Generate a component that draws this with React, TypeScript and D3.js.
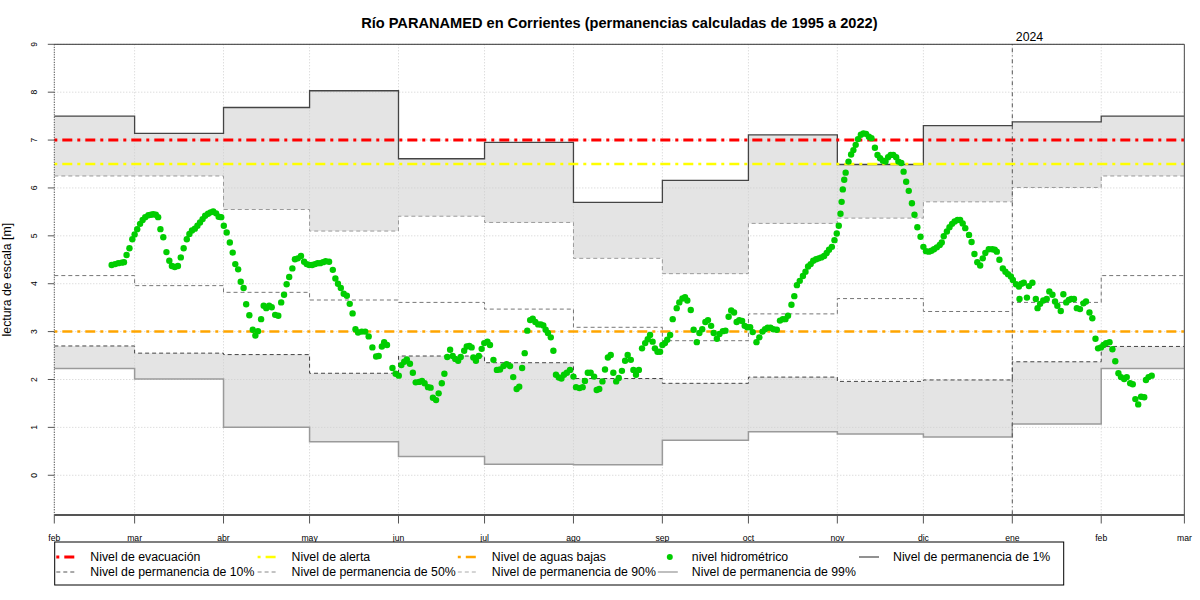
import React from "react";
import * as d3 from "d3";

// ---------- data ----------
const monthStarts = [
  "2023-02-01", "2023-03-01", "2023-04-01", "2023-05-01", "2023-06-01", "2023-07-01",
  "2023-08-01", "2023-09-01", "2023-10-01", "2023-11-01", "2023-12-01", "2024-01-01", "2024-02-01",
];
const axisEnd = "2024-03-01";
const tickLabels = ["feb", "mar", "abr", "may", "jun", "jul", "ago", "sep", "oct", "nov", "dic", "ene", "feb", "mar"];
const yTicks = [0, 1, 2, 3, 4, 5, 6, 7, 8, 9];
const yearMarkDate = "2024-01-01";
const yearMarkLabel = "2024";

// monthly permanence levels (m)
const perm1 = [7.5, 7.14, 7.68, 8.03, 6.61, 6.95, 5.7, 6.16, 7.11, 6.49, 7.3, 7.38, 7.5];
const perm10 = [6.25, 6.25, 5.55, 5.1, 5.41, 5.28, 4.53, 4.21, 5.26, 5.37, 5.71, 6.01, 6.25];
const perm50 = [4.17, 3.96, 3.82, 3.66, 3.61, 3.47, 3.09, 2.81, 3.37, 3.69, 3.42, 3.61, 4.17];
const perm90 = [2.7, 2.55, 2.52, 2.13, 2.49, 2.35, 2.02, 1.92, 2.05, 1.96, 1.99, 2.37, 2.69];
const perm99 = [2.23, 2.01, 1.0, 0.7, 0.39, 0.23, 0.22, 0.73, 0.91, 0.86, 0.8, 1.07, 2.23];

// reference levels
const levelEvacuacion = 7.0;
const levelAlerta = 6.5;
const levelAguasBajas = 3.0;

// observations: days since 2023-02-01 and gauge reading (m)
const obsDay = [
  20.0, 21.2, 22.3, 23.5, 24.3, 25.2, 26.2, 27.2, 28.0, 28.9,
  29.9, 30.8, 31.7, 32.8, 33.7, 34.5, 35.4, 36.2, 37.0, 38.0,
  39.1, 40.1, 41.0, 42.0, 43.1, 44.1, 45.1, 46.2, 47.1, 48.0,
  49.0, 49.9, 50.8, 51.7, 52.6, 53.6, 54.5, 55.4, 56.4, 57.3,
  58.2, 59.1, 60.1, 61.2, 62.2, 63.1, 64.1, 65.0, 66.0, 66.9,
  68.0, 69.2, 70.1, 71.0, 72.1, 73.0, 73.9, 74.9, 75.8, 77.0,
  78.1, 79.1, 80.1, 81.0, 81.9, 83.0, 83.9, 84.9, 86.0, 87.1,
  88.0, 88.9, 89.9, 90.9, 91.8, 92.7, 93.7, 94.6, 95.8, 97.1,
  98.0, 98.9, 99.9, 100.9, 102.0, 103.0, 104.0, 105.0, 105.9, 107.2,
  108.4, 109.6, 110.9, 112.2, 113.1, 114.2, 115.0, 116.0, 117.9, 119.0,
  120.1, 121.0, 122.0, 122.9, 124.0, 125.0, 126.0, 127.2, 128.2, 129.1,
  130.3, 131.2, 132.0, 133.1, 134.0, 135.1, 136.0, 137.0,
  138.0, 138.9, 139.8, 140.8, 141.7, 142.9, 143.8, 144.7, 145.5, 146.1,
  147.0, 148.0, 149.0, 149.9, 151.0, 151.9, 153.1, 154.3, 155.4, 156.6,
  157.7, 158.9, 160.0, 161.2, 162.1, 163.1, 164.0, 164.9, 165.9, 166.8,
  167.7, 168.7, 169.6, 170.5, 171.3, 172.1, 173.1, 174.0, 174.9, 175.9,
  176.8, 177.7, 178.7, 179.8, 181.0, 181.9, 183.1, 184.2, 185.0, 186.0,
  187.0, 188.2, 189.1, 190.0, 191.1, 192.0, 193.0, 194.0, 194.9, 195.9,
  196.8, 197.9, 199.0, 199.9, 201.0, 201.9, 202.8, 203.8, 204.9, 206.0,
  206.9, 207.7, 208.6, 209.4, 210.3, 211.2, 212.0, 212.9, 213.7, 214.7,
  215.6, 217.0, 217.9, 219.0, 219.9, 220.7, 221.9, 222.9, 224.0, 224.9,
  225.9, 227.0, 227.9, 229.0, 229.9, 231.0, 231.9, 233.1, 234.0, 235.1,
  236.0, 237.0, 237.9, 238.8, 239.8, 240.7, 241.6, 242.6, 243.5, 244.8,
  245.8, 246.9, 247.8, 248.7, 249.7, 250.7, 251.9, 253.0, 254.0, 254.9,
  255.8,
  257.0, 258.0, 258.9, 259.9, 261.0, 261.9, 262.8, 263.7, 264.6, 265.6,
  266.5, 267.4, 268.4, 269.3, 270.1, 271.1, 272.0, 272.8, 273.5, 274.1,
  274.5, 274.9, 275.4, 275.9, 276.9, 277.8, 278.6, 279.4, 280.2, 281.2,
  282.1, 283.0, 284.0, 284.9, 286.1, 287.0, 287.9, 288.9, 289.8, 290.7,
  291.6, 292.5, 293.5, 294.3, 295.3, 296.1, 297.0, 297.9, 299.0, 299.9,
  300.9, 302.0, 303.0, 303.9, 304.9, 305.8, 306.7, 307.7, 308.7, 309.4,
  310.1, 311.2, 312.1, 313.0, 313.9, 314.9, 315.8, 316.7, 317.6, 318.9,
  319.8, 320.8, 321.8, 322.8, 323.7, 324.6, 325.8, 327.0, 327.9, 328.6,
  329.5, 330.7, 331.6, 332.5, 333.5, 334.2, 335.3, 336.3, 336.5, 337.2,
  338.0, 339.1, 339.8, 341.0, 342.2, 342.8, 343.7, 344.8, 346.0, 346.9,
  348.0, 348.9, 349.7, 350.9, 351.8, 352.8, 353.7, 354.6, 355.5, 356.5,
  357.6, 358.8, 359.7, 360.9, 361.9, 363.0, 363.9, 364.9, 365.8, 366.7,
  367.9, 368.9, 369.9, 371.0, 371.9, 373.0, 373.9, 375.1, 376.0, 376.9,
  377.9, 378.9, 380.0, 380.6, 381.5, 382.6,
];
const obsLevel = [
  4.39, 4.41, 4.43, 4.44, 4.45, 4.6, 4.74, 4.93, 5.03, 5.14,
  5.25, 5.33, 5.39, 5.43, 5.44, 5.45, 5.44, 5.39, 5.14, 4.97,
  4.66, 4.48, 4.37, 4.35, 4.37, 4.55, 4.74, 4.93, 5.04, 5.11,
  5.15, 5.21, 5.28, 5.35, 5.42, 5.46, 5.49, 5.51, 5.47, 5.4,
  5.39, 5.21, 5.07, 4.86, 4.65, 4.41, 4.3, 4.04, 3.91, 3.57,
  3.34, 3.04, 2.92, 3.01, 3.26, 3.54, 3.49, 3.54, 3.51, 3.35,
  3.33, 3.61, 3.77, 3.99, 4.14, 4.32, 4.51, 4.53, 4.58, 4.46,
  4.41, 4.39, 4.39, 4.41, 4.43, 4.43, 4.45, 4.47, 4.46, 4.29,
  4.11, 4.0, 3.91, 3.79, 3.75, 3.58, 3.38, 3.05, 2.98, 3.0,
  3.0, 2.9, 2.67, 2.48, 2.49, 2.69, 2.78, 2.72, 2.24, 2.12,
  2.08, 2.3, 2.37, 2.42, 2.33, 2.14, 1.94, 1.95, 1.97, 1.92,
  1.84, 1.83, 1.62, 1.57, 1.71, 1.92, 2.12, 2.47,
  2.62, 2.49, 2.43, 2.39, 2.47, 2.6, 2.69, 2.7, 2.67, 2.46,
  2.39, 2.49, 2.64, 2.76, 2.79, 2.72, 2.41, 2.2, 2.21, 2.28,
  2.32, 2.28, 2.05, 1.8, 1.85, 2.24, 2.55, 3.02, 3.24, 3.27,
  3.2, 3.15, 3.15, 3.13, 3.04, 2.97, 2.88, 2.6, 2.1, 2.04,
  2.02, 2.1, 2.14, 2.2, 2.06, 1.84, 1.82, 1.84, 1.97, 2.14,
  2.14, 2.06, 1.78, 1.8, 1.96, 2.21, 2.46, 2.51, 2.14, 1.96,
  2.03, 2.18, 2.39, 2.51, 2.41, 2.2, 2.1, 2.2, 2.65, 2.76,
  2.84, 2.93, 2.79, 2.65, 2.58, 2.58, 2.72, 2.76, 2.83, 2.93,
  3.26, 3.49, 3.61, 3.69, 3.72, 3.65, 3.45, 3.04, 2.78, 2.97,
  3.05, 3.2, 3.24, 3.12, 2.97, 2.85, 2.95, 3.01, 3.02, 3.31,
  3.44, 3.4, 3.2, 3.24, 3.22, 3.12, 3.09, 3.09, 2.99, 2.78,
  2.88, 3.0, 3.05, 3.08, 3.08, 3.05, 3.04, 3.23, 3.26, 3.26,
  3.33,
  3.56, 3.74, 3.97, 4.06, 4.16, 4.25, 4.36, 4.41, 4.48, 4.51,
  4.53, 4.55, 4.58, 4.64, 4.71, 4.77, 4.91, 5.05, 5.21, 5.46,
  5.71, 5.97, 6.17, 6.32, 6.55, 6.7, 6.79, 6.9, 7.02, 7.11,
  7.14, 7.13, 7.07, 7.04, 6.84, 6.69, 6.62, 6.57, 6.55, 6.64,
  6.69, 6.69, 6.64, 6.55, 6.52, 6.34, 6.13, 5.94, 5.68, 5.44,
  5.18, 4.98, 4.77, 4.68, 4.67, 4.69, 4.72, 4.76, 4.81, 4.86,
  4.99, 5.09, 5.18, 5.25, 5.3, 5.33, 5.33, 5.26, 5.16, 5.02,
  4.87, 4.62, 4.45, 4.38, 4.53, 4.64, 4.72, 4.72, 4.71, 4.67,
  4.5, 4.32, 4.25, 4.2, 4.15, 4.08, 3.99, 3.94, 3.68, 4.0,
  4.02, 3.71, 3.95, 4.02, 3.68, 3.49, 3.58, 3.65, 3.68, 3.84,
  3.77, 3.63, 3.54, 3.43, 3.78, 3.61, 3.66, 3.68, 3.68, 3.49,
  3.47, 3.59, 3.63, 3.4, 3.28, 2.85, 2.65, 2.67, 2.72, 2.76,
  2.78, 2.63, 2.38, 2.13, 2.05, 2.01, 2.05, 1.92, 1.9, 1.59,
  1.48, 1.64, 1.63, 1.99, 2.05, 2.08,
];

const titleText = "Río PARANAMED en Corrientes (permanencias calculadas de 1995 a 2022)";
const yAxisTitle = "lectura de escala [m]";
const legendRow1 = ["Nivel de evacuación", "Nivel de alerta", "Nivel de aguas bajas", "nivel hidrométrico", "Nivel de permanencia de 1%"];
const legendRow2 = ["Nivel de permanencia de 10%", "Nivel de permanencia de 50%", "Nivel de permanencia de 90%", "Nivel de permanencia de 99%"];

// ---------- chart ----------
const FONT = "'Liberation Sans', Arial, Helvetica, sans-serif";
const DOTDASH = "3 5 10 5";

type Pt = { d: Date; v: number };

export default function App() {
  const W = 1200, H = 600;
  const left = 54.3, right = 1184.4, top = 44.3, bottom = 515;
  const parse = d3.timeParse("%Y-%m-%d");
  const starts = monthStarts.map((s) => parse(s) as Date);
  const end = parse(axisEnd) as Date;
  const tickDates = [...starts, end];

  const x = d3.scaleTime().domain([starts[0], end]).range([left, right]);
  const y = d3.scaleLinear().domain([-0.83, 9]).range([bottom, top]);

  const stepPts = (vals: number[]): Pt[] => [
    ...starts.map((d, i) => ({ d, v: vals[i] })),
    { d: end, v: vals[vals.length - 1] },
  ];
  const line = d3.line<Pt>().x((p) => x(p.d)).y((p) => y(p.v)).curve(d3.curveStepAfter);
  const band = (hi: number[], lo: number[]) => {
    const pts = starts.map((d, i) => ({ d, hi: hi[i], lo: lo[i] }));
    pts.push({ d: end, hi: hi[hi.length - 1], lo: lo[lo.length - 1] });
    return d3
      .area<{ d: Date; hi: number; lo: number }>()
      .x((p) => x(p.d))
      .y0((p) => y(p.lo))
      .y1((p) => y(p.hi))
      .curve(d3.curveStepAfter)(pts) as string;
  };

  const t0 = starts[0].getTime();
  const obs = obsDay.map((dd, i) => ({ d: new Date(t0 + dd * 864e5), v: obsLevel[i] }));

  const yearX = x(parse(yearMarkDate) as Date);

  const permStyles = [
    { vals: perm1, stroke: "#444", dash: undefined, w: 1.3 },
    { vals: perm10, stroke: "#9a9a9a", dash: "4 3", w: 1 },
    { vals: perm50, stroke: "#777", dash: "4 3", w: 1 },
    { vals: perm90, stroke: "#444", dash: "4 3", w: 1 },
    { vals: perm99, stroke: "#9a9a9a", dash: undefined, w: 1.5 },
  ];

  const refLines = [
    { v: levelEvacuacion, color: "#ff0000", w: 3 },
    { v: levelAlerta, color: "#ffff00", w: 2.5 },
    { v: levelAguasBajas, color: "#ffa500", w: 2.5 },
  ];

  // legend layout
  const colX = [90.3, 291.6, 491.8, 691.8, 893];
  const rowY = [557, 572];
  const legendSym1 = [
    { kind: "line", color: "#ff0000", dash: DOTDASH, w: 3 },
    { kind: "line", color: "#ffff00", dash: DOTDASH, w: 2.5 },
    { kind: "line", color: "#ffa500", dash: DOTDASH, w: 2.5 },
    { kind: "dot", color: "#00cd00" },
    { kind: "line", color: "#555", dash: undefined, w: 1.3 },
  ];
  const legendSym2 = [
    { kind: "line", color: "#555", dash: "4 3", w: 1 },
    { kind: "line", color: "#888", dash: "4 3", w: 1 },
    { kind: "line", color: "#aaa", dash: "4 3", w: 1 },
    { kind: "line", color: "#aaa", dash: undefined, w: 1.5 },
  ];

  const renderSym = (s: any, cx: number, cy: number, key: string) =>
    s.kind === "dot" ? (
      <circle key={key} cx={cx - 22} cy={cy} r={3} fill={s.color} />
    ) : (
      <line key={key} x1={cx - 34} x2={cx - 14} y1={cy} y2={cy} stroke={s.color}
        strokeWidth={s.w} strokeDasharray={s.dash} />
    );

  return (
    <svg width={W} height={H} style={{ position: "absolute", left: 0, top: 0, background: "#fff" }}
      fontFamily={FONT}>
      <rect x={0} y={0} width={W} height={H} fill="#fff" />
      {/* title */}
      <text x={(left + right) / 2} y={28} textAnchor="middle" fontWeight="bold" fontSize={14.6} fill="#000">
        {titleText}
      </text>

      {/* bands */}
      <path d={band(perm1, perm10)} fill="#e4e4e4" />
      <path d={band(perm90, perm99)} fill="#e4e4e4" />

      {/* grid */}
      {yTicks.map((t) => (
        <line key={"gy" + t} x1={left} x2={right} y1={y(t)} y2={y(t)} stroke="#cfcfcf" strokeDasharray="1 2" />
      ))}
      {tickDates.map((d, i) => (
        <line key={"gx" + i} x1={x(d)} x2={x(d)} y1={top} y2={bottom} stroke="#cfcfcf" strokeDasharray="1 2" />
      ))}

      {/* permanence step lines */}
      {permStyles.map((p, i) => (
        <path key={"perm" + i} d={line(stepPts(p.vals)) as string} fill="none" stroke={p.stroke}
          strokeWidth={p.w} strokeDasharray={p.dash} />
      ))}

      {/* reference levels */}
      {refLines.map((r, i) => (
        <line key={"ref" + i} x1={left} x2={right} y1={y(r.v)} y2={y(r.v)} stroke={r.color}
          strokeWidth={r.w} strokeDasharray={DOTDASH} />
      ))}

      {/* year marker */}
      <line x1={yearX} x2={yearX} y1={top} y2={bottom} stroke="#555" strokeDasharray="1 3 4 3" />
      <text x={yearX + 3.5} y={41} fontSize={12.3} fill="#000">{yearMarkLabel}</text>

      {/* observations */}
      {obs.map((o, i) => (
        <circle key={"o" + i} cx={x(o.d)} cy={y(o.v)} r={3.2} fill="#00cd00" />
      ))}

      {/* frame */}
      <line x1={left} x2={right} y1={top} y2={top} stroke="#333" />
      <line x1={right} x2={right} y1={top} y2={bottom} stroke="#666" strokeWidth={1.2} />
      <line x1={left} x2={left} y1={top} y2={bottom} stroke="#333" strokeDasharray="1 1.5" />
      <line x1={left} x2={right} y1={bottom} y2={bottom} stroke="#555" strokeWidth={2} />

      {/* x axis */}
      {tickDates.map((d, i) => (
        <g key={"xt" + i}>
          <line x1={x(d)} x2={x(d)} y1={bottom} y2={bottom + 8.5} stroke="#555" />
          <text x={x(d)} y={541} textAnchor="middle" fontSize={8.6} fill="#000">{tickLabels[i]}</text>
        </g>
      ))}

      {/* y axis */}
      {yTicks.map((t) => (
        <g key={"yt" + t}>
          <line x1={left - 6.5} x2={left} y1={y(t)} y2={y(t)} stroke="#555" />
          <text transform={`translate(37,${y(t)}) rotate(-90)`} textAnchor="middle" fontSize={8.6} fill="#000">
            {t}
          </text>
        </g>
      ))}
      <text transform={`translate(10.5,${(top + bottom) / 2}) rotate(-90)`} textAnchor="middle" fontSize={12.3} fill="#000">
        {yAxisTitle}
      </text>

      {/* legend */}
      <rect x={54.7} y={542} width={1009} height={43} fill="#fff" stroke="#000" />
      {legendRow1.map((t, i) => (
        <g key={"l1" + i}>
          {renderSym(legendSym1[i], colX[i], rowY[0], "s1" + i)}
          <text x={colX[i]} y={rowY[0] + 4.3} fontSize={12.3} fill="#000">{t}</text>
        </g>
      ))}
      {legendRow2.map((t, i) => (
        <g key={"l2" + i}>
          {renderSym(legendSym2[i], colX[i], rowY[1], "s2" + i)}
          <text x={colX[i]} y={rowY[1] + 4.3} fontSize={12.3} fill="#000">{t}</text>
        </g>
      ))}
    </svg>
  );
}
